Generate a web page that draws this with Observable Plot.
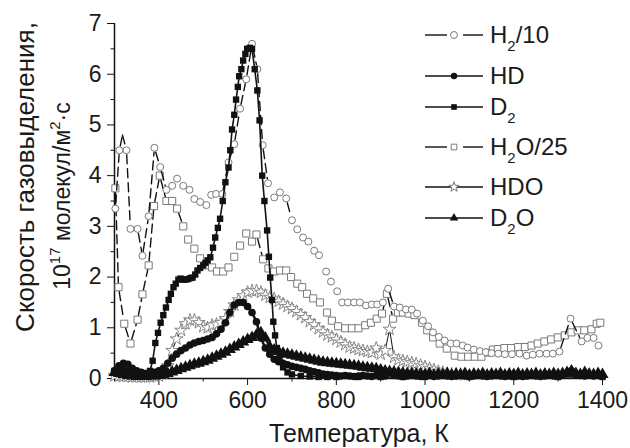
<!DOCTYPE html>
<html><head><meta charset="utf-8">
<script src="https://cdn.jsdelivr.net/npm/d3@7"></script>
<script src="https://cdn.jsdelivr.net/npm/@observablehq/plot@0.6"></script>
<style>
body{margin:0;background:#fff;font-family:"Liberation Sans",Arial,sans-serif;}
#wrap{position:relative;width:630px;height:448px;overflow:hidden;background:#fff;}
.ab{position:absolute;white-space:nowrap;color:#1a1a1a;}
sub{font-size:15px;vertical-align:-8px;line-height:0;}
sup{font-size:15px;vertical-align:10px;line-height:0;}
</style></head><body><div id="wrap"></div>
<script>
// ---- axis ticks ----
const xTicks = [400, 600, 800, 1000, 1200, 1400];
const xMinor = [300, 500, 700, 900, 1100, 1300];
const yTicks = [0, 1, 2, 3, 4, 5, 6, 7];
const yMinor = [0.5, 1.5, 2.5, 3.5, 4.5, 5.5, 6.5];

// ---- series labels ----
const seriesNames = ["H2/10", "HD", "D2", "H2O/25", "HDO", "D2O"];

// ---- common temperature grid (K) for HD, D2O, HDO ----
const tGrid = [300,310,320,330,340,350,360,370,380,390,
  400,410,420,430,440,450,460,470,480,490,
  500,510,520,530,540,550,560,570,580,590,
  600,610,620,630,640,650,660,670,680,690,
  700,710,720,730,740,750,760,770,780,790,
  800,810,820,830,840,850,860,870,880,890,
  900,910,920,930,940,950,960,970,980,990,
  1000,1010,1020,1030,1040,1050,1060,1070,1080,1090,
  1100,1110,1120,1130,1140,1150,1160,1170,1180,1190,
  1200,1210,1220,1230,1240,1250,1260,1270,1280,1290,
  1300,1310,1320,1330,1340,1350,1360,1370,1380,1390,1400];

const hdV = [0.15,0.25,0.3,0.28,0.2,0.15,0.12,0.1,0.1,0.12,
  0.15,0.2,0.3,0.4,0.48,0.55,0.6,0.66,0.7,0.73,
  0.75,0.78,0.81,0.88,0.97,1.1,1.3,1.45,1.5,1.5,
  1.42,1.3,1.12,0.8,0.6,0.48,0.38,0.33,0.3,0.27,
  0.24,0.22,0.2,0.18,0.15,0.13,0.11,0.09,0.08,0.07,
  0.06,0.05,0.06,0.05,0.04,0.05,0.06,0.05,0.04,0.06,
  0.08,0.05,0.12,0.06,0.05,0.04,0.05,0.06,0.05,0.04,
  0.05,0.06,0.04,0.05,0.06,0.05,0.04,0.05,0.06,0.05,
  0.04,0.05,0.06,0.05,0.04,0.05,0.06,0.05,0.04,0.05,
  0.06,0.05,0.04,0.05,0.06,0.05,0.04,0.05,0.06,0.05,
  0.06,0.08,0.1,0.15,0.08,0.06,0.05,0.07,0.05,0.06,0.05];

const d2oV = [0.12,0.1,0.08,0.06,0.05,0.04,0.04,0.04,0.05,0.05,
  0.06,0.08,0.1,0.13,0.16,0.19,0.22,0.25,0.28,0.3,
  0.33,0.36,0.4,0.44,0.48,0.52,0.57,0.62,0.67,0.72,
  0.77,0.81,0.86,0.9,0.8,0.62,0.56,0.53,0.5,0.48,
  0.46,0.44,0.42,0.4,0.38,0.36,0.34,0.32,0.31,0.3,
  0.29,0.28,0.27,0.26,0.25,0.24,0.22,0.21,0.2,0.19,
  0.17,0.15,0.14,0.13,0.12,0.11,0.1,0.1,0.09,0.09,
  0.08,0.1,0.07,0.09,0.08,0.1,0.07,0.09,0.08,0.1,
  0.07,0.09,0.08,0.1,0.07,0.09,0.08,0.1,0.07,0.09,
  0.08,0.1,0.07,0.09,0.08,0.1,0.07,0.09,0.08,0.1,
  0.08,0.1,0.12,0.15,0.1,0.08,0.12,0.09,0.08,0.1,0.08];

const hdoV = [0.05,0.05,0.04,0.04,0.03,0.03,0.03,0.03,0.03,0.04,
  0.05,0.1,0.25,0.55,0.78,0.95,1.08,1.15,1.15,1.1,
  1.02,1.0,1.05,1.07,1.1,1.18,1.32,1.45,1.55,1.63,
  1.7,1.73,1.73,1.7,1.64,1.6,1.57,1.52,1.47,1.42,
  1.38,1.32,1.26,1.2,1.12,1.06,0.98,0.92,0.86,0.82,
  0.77,0.72,0.67,0.62,0.6,0.57,0.55,0.53,0.51,0.6,
  0.48,0.55,0.97,0.42,0.37,0.35,0.33,0.31,0.29,0.26,
  0.23,0.2,0.17,0.14,0.12,0.1,0.09,0.08,0.08,0.07];

// ---- D2 ----
const d2T = [300,310,320,330,340,350,360,370,380,386,392,398,404,410,416,422,427,433,438,444,
  449,455,460,466,471,476,482,487,493,500,
  505,510,516,522,527,533,538,544,550,557,
  561,565,570,574,578,581,586,590,595,599,
  605,610,616,622,627,633,638,644,648,651,
  655,658,662,666,672,680,690,700,720,740,
  760,780,800,850,900,950,1000,1100,1200,1300,1400];
const d2V = [0.15,0.2,0.2,0.15,0.12,0.1,0.1,0.1,0.15,0.35,0.7,0.9,1.1,1.25,1.4,1.55,1.67,1.8,1.87,1.95,
  1.97,1.95,1.95,1.96,1.98,1.99,2.05,2.13,2.18,2.23,
  2.28,2.33,2.39,2.58,2.78,2.97,3.15,3.5,3.87,4.16,
  4.5,4.91,5.2,5.5,5.75,5.96,6.1,6.27,6.4,6.5,
  6.52,6.5,6.1,5.68,5.09,4.0,3.5,2.92,2.4,1.99,
  1.55,1.12,0.85,0.6,0.4,0.22,0.12,0.08,0.05,0.04,
  0.03,0.03,0.03,0.03,0.03,0.03,0.03,0.03,0.03,0.03,0.03];

// ---- H2/10 ----
const h2T = [302,311,327,336,352,363,377,390,403,417,430,441,455,469,480,493,507,518,529,543,
  557,570,583,597,610,622,634,646,660,673,687,700,712,725,737,750,761,777,788,802,
  813,826,840,853,867,880,892,905,917,930,943,957,970,982,995,1007,1018,1031,1044,1058,
  1071,1085,1096,1110,1124,1137,1150,1165,1180,1196,1213,1229,1243,1258,1274,1288,1303,1328,1353,1366,1380,1391];
const h2V = [3.35,4.5,4.5,2.95,2.95,2.42,3.2,4.55,4.17,3.72,3.8,3.94,3.8,3.72,3.54,3.48,3.42,3.62,3.64,3.64,
  4.26,4.62,5.32,5.9,6.6,6.1,4.6,3.85,3.57,3.67,3.55,3.12,2.94,2.78,2.7,2.52,2.43,2.11,1.91,1.72,
  1.5,1.5,1.5,1.5,1.44,1.46,1.46,1.5,1.77,1.42,1.4,1.36,1.36,1.28,1.14,1.03,0.91,0.82,0.75,0.69,
  0.69,0.65,0.61,0.57,0.54,0.52,0.5,0.49,0.48,0.48,0.49,0.45,0.47,0.49,0.49,0.49,0.53,1.18,0.73,0.8,0.8,0.65];
const h2LineOnlyT = [318];
const h2LineOnlyV = [4.8];

// ---- H2O/25 ----
const h2oT = [302,309,322,336,352,363,377,389,402,417,430,441,455,466,480,493,507,520,531,545,
  557,570,583,597,610,620,635,647,660,673,687,698,712,723,734,748,763,779,790,804,
  820,835,850,865,878,891,903,914,928,939,950,963,976,993,1005,1018,1033,1049,1067,1082,
  1097,1112,1127,1142,1153,1164,1179,1194,1210,1225,1240,1254,1269,1284,1299,1315,1330,1344,1359,1375,1387,1395];
const h2oV = [3.75,1.8,1.08,0.69,1.16,1.66,2.23,3.4,4.0,3.5,3.5,3.35,3.0,2.74,2.56,2.37,2.23,2.19,2.11,2.11,
  2.19,2.4,2.62,2.86,2.7,2.84,2.35,2.17,2.11,2.13,2.13,2.0,1.87,1.8,1.67,1.58,1.5,1.3,1.14,1.03,
  0.99,0.99,0.99,1.05,1.1,1.18,1.28,1.67,1.18,1.3,1.3,1.28,1.25,1.1,0.95,0.81,0.69,0.59,0.45,0.43,
  0.43,0.43,0.43,0.51,0.57,0.58,0.6,0.6,0.62,0.62,0.65,0.69,0.73,0.77,0.81,0.85,0.91,0.95,0.95,0.97,1.08,1.1];

// ---- build tables ----
const zip = (T, V, bare = false) => V.map((v, i) => ({t: T[i], v, bare}));
const segs = rows => rows.slice(1).map((r, i) => ({t1: rows[i].t, v1: rows[i].v, b1: rows[i].bare, t2: r.t, v2: r.v, b2: r.bare}));
const hd = zip(tGrid, hdV);
const d2o = zip(tGrid, d2oV);
const hdo = zip(tGrid, hdoV);
const d2 = zip(d2T, d2V);
const h2 = zip(h2T, h2V);
const h2SegsAll = segs(h2.concat(zip(h2LineOnlyT, h2LineOnlyV, true)).sort((a, b) => a.t - b.t));
const h2o = zip(h2oT, h2oV);
const h2oSegsAll = segs(h2o);

const GRAY = "#7a7a7a";
const BLACK = "#111";
const FONT = "Liberation Sans, Arial, sans-serif";
const GAP = 4.5;

// dashed connector with a gap around each symbol (no gap at a point that has no symbol)
const gapLine = (data, gs, ge) => Plot.arrow(data, {x1: "t1", y1: "v1", x2: "t2", y2: "v2", headLength: 0,
  insetStart: gs, insetEnd: ge, stroke: BLACK, strokeWidth: 1.4, strokeDasharray: "9,5"});
const gapLines = data => [
  gapLine(data.filter(s => !s.b1 && !s.b2), GAP, GAP),
  gapLine(data.filter(s => !s.b1 && s.b2), GAP, 0),
  gapLine(data.filter(s => s.b1 && !s.b2), 0, GAP)
];

function makePlot(h2Segs, h2oSegs) {
  return Plot.plot({
    width: 630, height: 448,
    marginLeft: 114, marginRight: 28, marginTop: 23, marginBottom: 70,
    x: {domain: [300, 1400]},
    y: {domain: [0, 7]},
    style: {fontFamily: FONT, fontSize: "23px", color: "#1a1a1a", background: "white", overflow: "visible"},
    marks: [
      Plot.axisX({ticks: xMinor, tickSize: 3.5, fill: "none", label: null, stroke: BLACK}),
      Plot.axisX({ticks: xTicks, tickSize: 7, tickPadding: 6, label: null, stroke: BLACK, tickFormat: d => String(d)}),
      Plot.axisY({ticks: yMinor, tickSize: 3.5, fill: "none", label: null, stroke: BLACK}),
      Plot.axisY({ticks: yTicks, tickSize: 7, tickPadding: 6, label: null, stroke: BLACK, tickFormat: d => String(d)}),
      Plot.ruleX([300], {stroke: BLACK, strokeWidth: 1.5}),
      Plot.ruleY([0], {stroke: BLACK, strokeWidth: 1.5}),
      // H2O/25
      gapLines(h2oSegs),
      Plot.dot(h2o, {x: "t", y: "v", symbol: "square", r: 4, stroke: GRAY, fill: "white", strokeWidth: 1}),
      // H2/10
      gapLines(h2Segs),
      Plot.dot(h2, {x: "t", y: "v", symbol: "circle", r: 3.5, stroke: GRAY, fill: "white", strokeWidth: 1}),
      // HDO
      Plot.line(hdo, {x: "t", y: "v", stroke: BLACK, strokeWidth: 1}),
      Plot.dot(hdo, {x: "t", y: "v", symbol: "star", r: 4, stroke: GRAY, fill: "white", strokeWidth: 0.9}),
      // D2O
      Plot.line(d2o, {x: "t", y: "v", stroke: BLACK, strokeWidth: 2.5}),
      Plot.dot(d2o, {x: "t", y: "v", symbol: "triangle", r: 4.5, fill: BLACK, stroke: "none"}),
      // HD
      Plot.line(hd, {x: "t", y: "v", stroke: BLACK, strokeWidth: 2.5}),
      Plot.dot(hd, {x: "t", y: "v", symbol: "circle", r: 3.8, fill: BLACK, stroke: "none"}),
      // D2
      Plot.line(d2, {x: "t", y: "v", stroke: BLACK, strokeWidth: 1.6}),
      Plot.dot(d2, {x: "t", y: "v", symbol: "square", r: 3.6, fill: BLACK, stroke: "none"})
    ]
  });
}

// first pass: get the plot's scales, then keep only connectors long enough to show past the symbol gaps
const probe = makePlot([], []);
const sx = probe.scale("x"), sy = probe.scale("y");
const longEnough = s => s.b1 || s.b2 ||
  Math.hypot(sx.apply(s.t2) - sx.apply(s.t1), sy.apply(s.v2) - sy.apply(s.v1)) > 18;
const plot = makePlot(h2SegsAll.filter(longEnough), h2oSegsAll.filter(longEnough));

const wrap = document.getElementById("wrap");
wrap.appendChild(plot);

function addDiv(html, css) {
  const d = document.createElement("div");
  d.className = "ab";
  d.innerHTML = html;
  Object.assign(d.style, css);
  wrap.appendChild(d);
  return d;
}

// y-axis title (two lines, rotated)
addDiv("Скорость газовыделения,", {left: (25 - 200) + "px", top: (177 - 15) + "px", width: "400px", height: "30px",
  lineHeight: "30px", textAlign: "center", fontSize: "26px", transform: "rotate(-90deg)"});
addDiv("10<sup>17</sup> молекул/м<sup>2</sup>·с", {left: (62 - 200) + "px", top: (196 - 15) + "px", width: "400px", height: "30px",
  lineHeight: "30px", textAlign: "center", fontSize: "23px", transform: "rotate(-90deg)"});
// x-axis title
addDiv("Температура, К", {left: (359 - 150) + "px", top: "420px", width: "300px", lineHeight: "26px",
  textAlign: "center", fontSize: "25px"});

// legend
const legendRows = [
  {html: "H<sub>2</sub>/10", y: 35, dash: true, sym: "circle", fill: "white", stroke: GRAY},
  {html: "HD", y: 76, dash: false, sym: "circle", fill: BLACK, stroke: "none"},
  {html: "D<sub>2</sub>", y: 107, dash: false, sym: "square", fill: BLACK, stroke: "none"},
  {html: "H<sub>2</sub>O/25", y: 147, dash: true, sym: "square", fill: "white", stroke: GRAY},
  {html: "HDO", y: 187, dash: false, sym: "star", fill: "white", stroke: GRAY},
  {html: "D<sub>2</sub>O", y: 218, dash: false, sym: "triangle", fill: BLACK, stroke: "none"}
];
const symMap = {circle: d3.symbolCircle, square: d3.symbolSquare, star: d3.symbolStar, triangle: d3.symbolTriangle};
const ns = "http://www.w3.org/2000/svg";
const lsvg = document.createElementNS(ns, "svg");
lsvg.setAttribute("width", 70); lsvg.setAttribute("height", 240);
lsvg.style.position = "absolute"; lsvg.style.left = "420px"; lsvg.style.top = "0px";
wrap.appendChild(lsvg);
const lg = d3.select(lsvg);
legendRows.forEach(r => {
  const x0 = 5, x1 = 63, xc = 34;
  if (r.dash) {
    lg.append("line").attr("x1", x0).attr("x2", x0 + 22).attr("y1", r.y).attr("y2", r.y).attr("stroke", BLACK).attr("stroke-width", 1.4);
    lg.append("line").attr("x1", x1 - 20).attr("x2", x1).attr("y1", r.y).attr("y2", r.y).attr("stroke", BLACK).attr("stroke-width", 1.4);
  } else {
    lg.append("line").attr("x1", x0).attr("x2", x1).attr("y1", r.y).attr("y2", r.y).attr("stroke", BLACK).attr("stroke-width", 1.4);
  }
  const size = r.sym === "circle" && r.fill === "white" ? 38 : 32;
  lg.append("path").attr("d", d3.symbol(symMap[r.sym], size)()).attr("transform", `translate(${xc},${r.y})`)
    .attr("fill", r.fill).attr("stroke", r.stroke).attr("stroke-width", 1);
  addDiv(r.html, {left: "490px", top: (r.y - 12) + "px", lineHeight: "24px", fontSize: "24px"});
});
</script></body></html>
